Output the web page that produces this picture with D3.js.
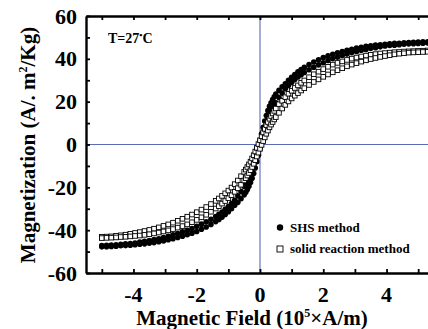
<!DOCTYPE html>
<html><head><meta charset="utf-8">
<script src="https://cdn.jsdelivr.net/npm/d3@7/dist/d3.min.js"></script>
<style>
html,body{margin:0;padding:0;background:#fff;}
svg{display:block;font-family:"Liberation Serif","Times New Roman",serif;font-weight:bold;}
</style></head>
<body>
<svg id="chart" width="428" height="329"></svg>
<script>
// Applied field H (10^5 A/m)
const fieldH = [-5.0,-4.85,-4.7,-4.55,-4.4,-4.25,-4.1,-3.95,-3.8,-3.65,-3.5,-3.35,-3.2,-3.05,-2.9,-2.75,-2.6,-2.45,-2.3,-2.15,-2.0,-1.85,-1.7,-1.55,-1.4,-1.3,-1.2,-1.1,-1.0,-0.9,-0.8,-0.7,-0.6,-0.5,-0.45,-0.4,-0.35,-0.3,-0.25,-0.2,-0.15,-0.1,-0.05,0,0.05,0.1,0.15,0.2,0.25,0.3,0.35,0.4,0.45,0.5,0.6,0.7,0.8,0.9,1.0,1.1,1.2,1.3,1.4,1.55,1.7,1.85,2.0,2.15,2.3,2.45,2.6,2.75,2.9,3.05,3.2,3.35,3.5,3.65,3.8,3.95,4.1,4.25,4.4,4.55,4.7,4.85,5.0,5.15,5.3,5.45];

// SHS method (filled circles): descending and ascending branches
const shsDown = [-47.2,-47.1,-47.0,-46.8,-46.6,-46.4,-46.2,-46.0,-45.6,-45.2,-44.9,-44.4,-44.0,-43.4,-42.9,-42.2,-41.6,-40.8,-40.1,-39.2,-38.2,-37.2,-36.1,-34.9,-33.6,-32.6,-31.5,-30.3,-29.0,-27.6,-26.0,-24.0,-21.9,-19.5,-18.3,-17.0,-15.5,-13.8,-11.8,-9.5,-7.0,-4.0,-1.0,2.0,5.0,8.0,11.0,13.5,15.8,17.8,19.5,21.0,22.3,23.5,25.3,27.0,28.4,30.0,31.4,32.7,33.9,35.0,36.0,37.3,38.5,39.6,40.6,41.4,42.1,42.8,43.4,44.0,44.5,45.0,45.4,45.8,46.1,46.4,46.6,46.8,47.0,47.2,47.3,47.5,47.6,47.7,47.8,47.9,48.0,48.0];
const shsUp = [-47.8,-47.7,-47.6,-47.5,-47.3,-47.2,-47.0,-46.8,-46.6,-46.4,-46.1,-45.8,-45.4,-45.0,-44.5,-44.0,-43.4,-42.8,-42.1,-41.4,-40.6,-39.6,-38.5,-37.3,-36.0,-35.0,-33.9,-32.7,-31.4,-30.0,-28.4,-27.0,-25.3,-23.5,-22.3,-21.0,-19.5,-17.8,-15.8,-13.5,-11.0,-8.0,-5.0,-2.0,1.0,4.0,7.0,9.5,11.8,13.8,15.5,17.0,18.3,19.5,21.9,24.0,26.0,27.6,29.0,30.3,31.5,32.6,33.6,34.9,36.1,37.2,38.2,39.2,40.1,40.8,41.6,42.2,42.9,43.4,44.0,44.4,44.9,45.2,45.6,46.0,46.2,46.4,46.6,46.8,47.0,47.1,47.2,47.3,47.4,47.4];

// Solid reaction method (open squares): descending and ascending branches
const solidDown = [-43.1,-43.0,-42.9,-42.6,-42.4,-42.1,-41.7,-41.3,-40.9,-40.4,-39.9,-39.3,-38.7,-38.0,-37.3,-36.5,-35.6,-34.7,-33.7,-32.7,-31.6,-30.4,-29.2,-27.8,-26.3,-25.2,-24.0,-22.8,-21.5,-20.1,-18.5,-16.8,-14.8,-12.8,-11.7,-10.5,-9.3,-8.0,-6.5,-5.0,-3.3,-1.6,0.2,2.0,3.8,5.6,7.3,9.0,10.5,12.0,13.3,14.5,15.7,16.8,18.8,20.4,22.1,23.7,25.1,26.4,27.6,28.8,29.9,31.4,32.8,34.0,35.2,36.3,37.3,38.1,38.8,39.5,40.1,40.6,41.1,41.5,41.9,42.2,42.5,42.7,42.9,43.1,43.2,43.4,43.5,43.6,43.7,43.8,43.9,43.9];
const solidUp = [-43.7,-43.6,-43.5,-43.4,-43.2,-43.1,-42.9,-42.7,-42.5,-42.2,-41.9,-41.5,-41.1,-40.6,-40.1,-39.5,-38.8,-38.1,-37.3,-36.3,-35.2,-34.0,-32.8,-31.4,-29.9,-28.8,-27.6,-26.4,-25.1,-23.7,-22.1,-20.4,-18.8,-16.8,-15.7,-14.5,-13.3,-12.0,-10.5,-9.0,-7.3,-5.6,-3.8,-2.0,-0.2,1.6,3.3,5.0,6.5,8.0,9.3,10.5,11.7,12.8,14.8,16.8,18.5,20.1,21.5,22.8,24.0,25.2,26.3,27.8,29.2,30.4,31.6,32.7,33.7,34.7,35.6,36.5,37.3,38.0,38.7,39.3,39.9,40.4,40.9,41.3,41.7,42.1,42.4,42.6,42.9,43.0,43.1,43.2,43.3,43.3];

const xTickLabels = [-4,-2,0,2,4];
const xMinorTicks = [-5,-4,-3,-2,-1,0,1,2,3,4,5];
const yTickLabels = [-60,-40,-20,0,20,40,60];
const yMinorTicks = [-50,-30,-10,10,30,50];
const legendLabels = ["SHS method","solid reaction method"];

const svg = d3.select("#chart");
const x = d3.scaleLinear().domain([-5.5,5.5]).range([86,434]);
const y = d3.scaleLinear().domain([-60,60]).range([273,16]);
const blue = "#5a6db4";

// reference lines
svg.append("line").attr("x1",x(-5.5)).attr("x2",x(5.5)).attr("y1",y(0)).attr("y2",y(0))
  .attr("stroke",blue).attr("stroke-width",1.1);
svg.append("line").attr("x1",x(0)).attr("x2",x(0)).attr("y1",y(60)).attr("y2",y(-60))
  .attr("stroke",blue).attr("stroke-width",1.1);

const plot = svg.append("g");
const shsData = fieldH.map((h,i)=>[h,shsDown[i]]).concat(fieldH.map((h,i)=>[h,shsUp[i]]));
const solidData = fieldH.map((h,i)=>[h,solidDown[i]]).concat(fieldH.map((h,i)=>[h,solidUp[i]]));

plot.selectAll("circle.shs").data(shsData).enter().append("circle").attr("class","shs")
  .attr("cx",d=>x(d[0])).attr("cy",d=>y(d[1])).attr("r",2.8).attr("fill","#000");
plot.selectAll("rect.solid").data(solidData).enter().append("rect").attr("class","solid")
  .attr("x",d=>x(d[0])-2.3).attr("y",d=>y(d[1])-2.3).attr("width",4.6).attr("height",4.6)
  .attr("fill","#fff").attr("stroke","#000").attr("stroke-width",0.9);

// axes
const axW = 2.4;
const gBottom = svg.append("g").attr("transform",`translate(0,${y(-60)})`)
  .call(d3.axisBottom(x).tickValues(xMinorTicks).tickSizeInner(-4).tickSizeOuter(0).tickFormat(""));
const gTop = svg.append("g").attr("transform",`translate(0,${y(60)})`)
  .call(d3.axisTop(x).tickValues(xMinorTicks).tickSizeInner(-4).tickSizeOuter(0).tickFormat(""));
const gLeft = svg.append("g").attr("transform",`translate(${x(-5.5)},0)`)
  .call(d3.axisLeft(y).tickValues(yTickLabels.concat(yMinorTicks)).tickSizeInner(-4).tickSizeOuter(0).tickFormat(""));
[gBottom,gTop,gLeft].forEach(g=>{
  g.select(".domain").attr("stroke","#000").attr("stroke-width",axW);
  g.selectAll(".tick line").attr("stroke","#000").attr("stroke-width",1.8);
});

// tick labels
svg.append("g").selectAll("text").data(xTickLabels).enter().append("text")
  .attr("x",d=>x(d)).attr("y",302).attr("text-anchor","middle")
  .attr("font-size",22).attr("font-weight","bold").text(d=>d);
svg.append("g").selectAll("text").data(yTickLabels).enter().append("text")
  .attr("x",77).attr("y",d=>y(d)+7.5).attr("text-anchor","end")
  .attr("font-size",22).attr("font-weight","bold").text(d=>d);

// axis titles
const xt = svg.append("text").attr("x",252).attr("y",325).attr("text-anchor","middle")
  .attr("font-size",21).attr("font-weight","bold");
xt.append("tspan").text("Magnetic Field (10");
xt.append("tspan").attr("font-size",12).attr("dy",-8).text("5");
xt.append("tspan").attr("dy",8).text("\u00D7A/m)");

const yt = svg.append("text").attr("transform","translate(35,145) rotate(-90)")
  .attr("text-anchor","middle").attr("font-size",21).attr("font-weight","bold");
yt.append("tspan").text("Magnetization (A/.  m");
yt.append("tspan").attr("font-size",12).attr("dy",-8).text("2");
yt.append("tspan").attr("dy",8).text("/Kg)");

// annotation
const ann = svg.append("text").attr("x",108).attr("y",43).attr("font-size",14).attr("font-weight","bold");
ann.append("tspan").text("T=27");
ann.append("tspan").attr("font-size",9).attr("dy",-5).text("\u2022");
ann.append("tspan").attr("dy",5).text("C");

// legend
svg.append("circle").attr("cx",280).attr("cy",227.5).attr("r",3.2).attr("fill","#000");
svg.append("rect").attr("x",277).attr("y",246).attr("width",6).attr("height",6)
  .attr("fill","#fff").attr("stroke","#000").attr("stroke-width",0.9);
svg.append("g").selectAll("text").data(legendLabels).enter().append("text")
  .attr("x",290).attr("y",(d,i)=>231.5+i*21).attr("font-size",13).attr("font-weight","bold").text(d=>d);
</script>
</body></html>
